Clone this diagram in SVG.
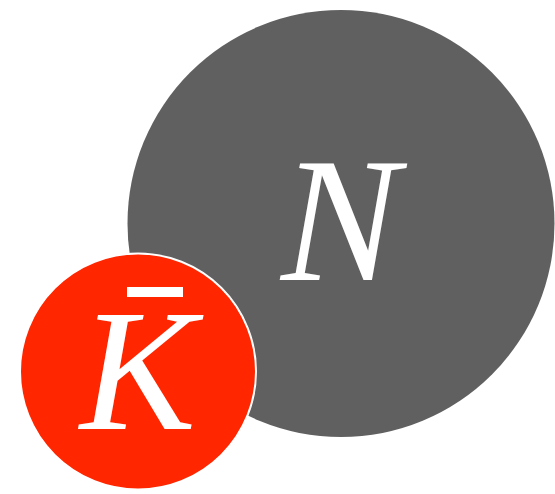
<svg xmlns="http://www.w3.org/2000/svg" width="555" height="494" viewBox="0 0 555 494">
<style>
.lbl{font-family:"Liberation Serif","Times New Roman",serif;font-style:italic;fill:#ffffff;text-anchor:middle}
</style>
<rect width="555" height="494" fill="#ffffff"/>
<g id="connectors"></g>
<g id="node-N">
<circle cx="341" cy="223.5" r="213.5" fill="#606060"/>
<text class="lbl" x="340" y="280" font-size="177">N</text>
</g>
<g id="node-Kbar">
<circle cx="138" cy="371.5" r="118" fill="#ff2600" stroke="#ffffff" stroke-width="2"/>
<text class="lbl" x="138" y="429" font-size="174">K</text>
<rect x="127" y="287" width="56" height="10" fill="#ffffff"/>
</g>
</svg>
